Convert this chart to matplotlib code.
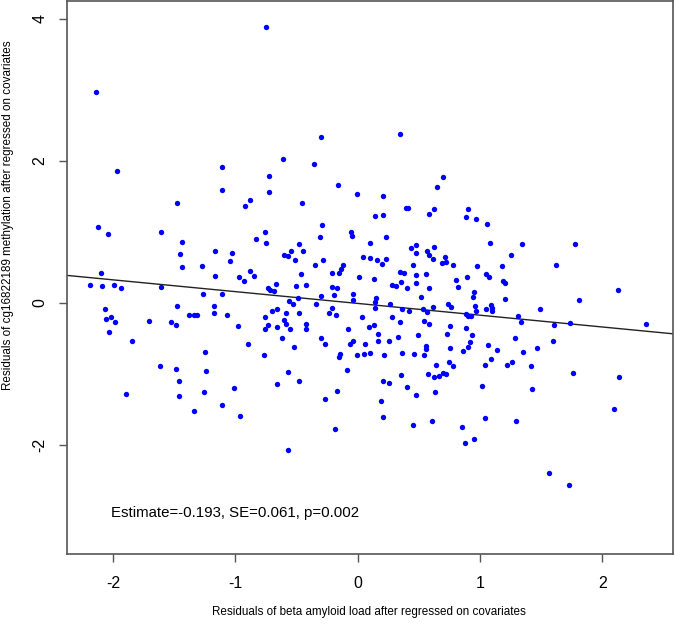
import matplotlib
matplotlib.use("Agg")
import matplotlib.pyplot as plt
from matplotlib import font_manager

# residuals
amyloid_resid = [
    -0.747, -2.142, -1.968, -1.112, -0.298, 0.348, -0.613, -0.355,
    -0.723, -1.112, -0.728, -1.480, -0.883, -0.919, -2.123, -2.044, -1.606, -0.760,
    -0.829, -0.747, -1.437, -1.169, -1.025, -1.455, -1.042, -1.439, -1.271, -0.878,
    -2.101, -1.167, -0.845, -0.968, -0.932, -2.186, -2.088, -1.990, -1.938, -1.608,
    -0.731, -1.262, -1.112, -2.066, -1.480, -1.173, -2.061, -2.017, -1.987, -1.377,
    -1.339, -1.314, -1.175, -1.071, -0.760, -1.704, -1.527, -1.488, -0.981, -0.731,
    -0.760, -2.031, -0.717,
    -0.164, 0.697, 0.651, -0.003, 0.207, -0.458, 0.395, 0.414, 0.585, 0.626,
    0.899, 0.888, 0.139, 0.209, -0.289, -0.308, -0.057, -0.044, 0.231, -0.482,
    -0.445, -0.543, -0.600, -0.567, -0.515, 0.101, 0.433, 0.479, 0.477, 0.569,
    0.585, 0.626, 0.618, 0.711, 0.689, 0.722, 0.777, 0.041, 0.101, 0.158,
    0.234, 0.201, -0.286, -0.349, -0.123, -0.134, -0.150, -0.208, -0.466, 0.013,
    0.133, 0.346, 0.381, 0.452, 0.479, 0.556, 0.352, 0.477, 0.806, 0.896,
    -0.666, -0.507, -0.425, -0.684, -0.210, -0.172, 0.280, 0.311, 0.406, 0.581,
    0.820, 0.951, 0.940, -0.191, -0.041, -0.038, -0.303, -0.488, -0.562, -0.531,
    -0.341, 0.147, 0.144, 0.264, 0.518, 0.141, 0.360, 0.419, 0.531, 0.569,
    0.613, 0.736, 0.760, 0.957, -0.210, -0.237, -0.175, -0.482, -0.586, -0.662,
    -0.698, 0.033, 0.283, 0.883, 0.904, 0.926, -0.603, -0.586, -0.660, -0.554,
    -0.425, -0.423, -0.077, 0.095, 0.136, 0.346, 0.545, 0.581, 0.752, 0.888,
    0.168, 0.493, 0.730, 0.935,
    0.967, 1.055, 1.084, 1.346, 1.779, 1.256, 0.975, 1.180, 1.621, 1.047,
    1.071, 1.188, 1.202, 2.126, 1.202, 1.809, 0.967, 1.052, 1.092, 1.098,
    1.096, 1.493, 1.313, 1.338, 1.608, 1.733, 2.357,
    -1.843, -0.897, -0.769, -1.251, -1.614, -1.483, -1.240, -1.461, -1.897, -1.464,
    -1.254, -1.014, -1.107, -1.341, -0.960,
    -0.621, -0.303, -0.270, -0.523, -0.065, -0.038, 0.062, 0.164, 0.253, 0.330,
    0.561, 0.558, 0.757, 0.918, 0.902, 0.859, -0.147, -0.153, -0.008, 0.052,
    0.101, 0.217, 0.360, 0.458, 0.540, 0.744, 0.777, 0.638, -0.570, -0.085,
    -0.660, -0.482, 0.204, 0.258, 0.352, 0.575, 0.626, 0.662, 0.695, 0.722,
    0.403, 0.474, 0.630, -0.169, -0.267, 0.188, 0.204, -0.183, 0.450, 0.610,
    0.855, 0.877, 0.951, -0.567,
    1.063, 1.141, 1.284, 1.466, 1.594, 1.352, 1.092, 1.041, 1.218, 1.264,
    1.415, 1.758, 2.134, 1.019, 1.423, 2.096, 1.038, 1.294, 1.562, 1.730,
]

methyl_resid = [
    3.883, 2.969, 1.849, 1.905, 2.338, 2.376, 2.027, 1.956,
    1.787, 1.585, 1.556, 1.405, 1.453, 1.359, 1.066, 0.973, 0.992, 0.996,
    0.893, 0.836, 0.850, 0.727, 0.699, 0.685, 0.586, 0.507, 0.521, 0.445,
    0.422, 0.374, 0.380, 0.356, 0.309, 0.253, 0.229, 0.243, 0.210, 0.215,
    0.210, 0.120, 0.116, -0.092, -0.049, -0.044, -0.227, -0.199, -0.275, -0.167,
    -0.177, -0.171, -0.143, -0.167, -0.205, -0.261, -0.266, -0.318, -0.322, -0.312,
    -0.369, -0.407, 0.172,
    1.660, 1.764, 1.627, 1.538, 1.500, 1.411, 1.331, 1.340, 1.250, 1.316,
    1.321, 1.203, 1.218, 1.236, 1.095, 0.921, 0.992, 0.939, 0.921, 0.822,
    0.723, 0.727, 0.671, 0.657, 0.596, 0.846, 0.775, 0.818, 0.695, 0.733,
    0.677, 0.790, 0.620, 0.648, 0.554, 0.568, 0.525, 0.638, 0.634, 0.596,
    0.614, 0.540, 0.606, 0.535, 0.525, 0.469, 0.417, 0.422, 0.398, 0.366,
    0.328, 0.436, 0.412, 0.530, 0.388, 0.403, 0.285, 0.281, 0.318, 0.356,
    0.257, 0.233, 0.243, 0.168, 0.219, 0.201, 0.247, 0.233, 0.201, 0.205,
    0.215, 0.144, 0.083, 0.102, 0.116, 0.041, 0.097, 0.073, 0.027, -0.016,
    -0.016, 0.064, 0.007, -0.016, 0.083, -0.078, -0.082, -0.110, -0.092, -0.129,
    -0.054, -0.016, -0.054, -0.044, -0.078, -0.143, -0.171, -0.148, -0.148, -0.092,
    -0.114, -0.199, -0.195, -0.157, -0.191, -0.181, -0.247, -0.298, -0.346, -0.374,
    -0.304, -0.374, -0.374, -0.336, -0.318, -0.270, -0.261, -0.304, -0.326, -0.350,
    -0.435, -0.459, -0.445, -0.453,
    1.175, 1.109, 0.840, 0.832, 0.822, 0.677, 0.521, 0.521, 0.525, 0.398,
    0.366, 0.309, 0.281, 0.186, 0.055, 0.045, -0.110, -0.082, -0.035, -0.068,
    -0.114, -0.082, -0.185, -0.266, -0.308, -0.280, -0.298,
    -0.544, -0.586, -0.742, -0.694, -0.897, -0.934, -0.968, -1.103, -1.292, -1.311,
    -1.254, -1.198, -1.438, -1.523, -1.597,
    -0.496, -0.501, -0.576, -0.623, -0.576, -0.544, -0.576, -0.534, -0.538, -0.487,
    -0.614, -0.657, -0.633, -0.548, -0.623, -0.679, -0.727, -0.760, -0.742, -0.722,
    -0.713, -0.742, -0.708, -0.718, -0.742, -0.831, -0.897, -0.873, -0.972, -0.953,
    -1.151, -1.103, -1.109, -1.131, -1.024, -1.000, -1.047, -1.038, -0.986, -1.010,
    -1.194, -1.301, -1.258, -1.240, -1.357, -1.381, -1.617, -1.781, -1.716, -1.664,
    -1.749, -1.975, -1.914, -2.069,
    -0.590, -0.665, -0.496, -0.633, -0.538, -0.699, -0.792, -0.883, -0.877, -0.831,
    -0.897, -0.996, -1.052, -1.174, -1.222, -1.499, -1.631, -1.668, -2.394, -2.568,
]

fit_intercept = -0.010
fit_slope = -0.166
stats_text = "Estimate=-0.193, SE=0.061, p=0.002"

installed = {f.name for f in font_manager.fontManager.ttflist}
family = "Liberation Sans Narrow" if "Liberation Sans Narrow" in installed else "Liberation Sans"
plt.rcParams["font.family"] = [family, "DejaVu Sans"]

fig = plt.figure(figsize=(6.75, 6.26), dpi=100)
ax = fig.add_axes([0.0988, 0.115, 0.8982, 0.8834])

ax.scatter(amyloid_resid, methyl_resid, s=15, color="#0000ff", linewidths=0, zorder=3)
ax.axline((0, fit_intercept), slope=fit_slope, color="#222222", lw=1.0, zorder=2)

ax.set_xlim(-2.379, 2.578)
ax.set_ylim(-3.54, 4.25)
ax.set_xticks([-2, -1, 0, 1, 2])
ax.set_yticks([-2, 0, 2, 4])
ax.set_xticklabels(["-2", "-1", "0", "1", "2"])
ax.set_yticklabels(["-2", "0", "2", "4"], rotation=90, va="center")
ax.tick_params(axis="both", length=6, width=1, color="#555555", labelsize=11.5)
ax.tick_params(axis="x", pad=10)
ax.tick_params(axis="y", pad=8)
for sp in ax.spines.values():
    sp.set_color("#555555")
    sp.set_linewidth(1.2)

ax.text(-1.0, -2.96, stats_text, ha="center", va="center", fontsize=10.8)

ax.set_xlabel("Residuals of beta amyloid load after regressed on covariates", fontsize=8.4)
ax.set_ylabel("Residuals of cg16822189 methylation after regressed on covariates", fontsize=8.4)
ax.xaxis.set_label_coords(0.4986, -0.094)
ax.yaxis.set_label_coords(-0.087, 0.613)

fig.savefig("out.png", dpi=100)
